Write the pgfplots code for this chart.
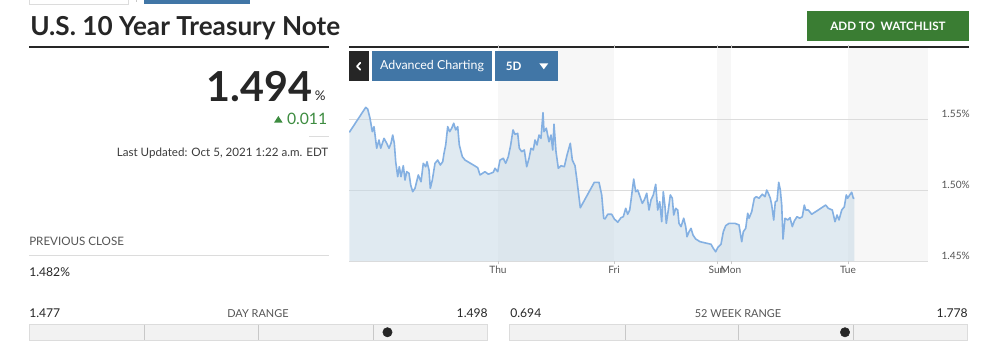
\documentclass[border=0pt]{standalone}
\usepackage{pgfplots}
\pgfplotsset{compat=1.18}
\usepackage{pgfplotstable}
\usepackage{fontspec}
\setmainfont{Lato}
\definecolor{darktext}{HTML}{262626}
\definecolor{green1}{HTML}{3A7D33}
\definecolor{green2}{HTML}{3D8C40}
\definecolor{btnblue}{HTML}{4176A6}
\definecolor{labgray}{HTML}{555555}
\definecolor{rulegray}{HTML}{DCDCDC}
\definecolor{bargray}{HTML}{F2F2F2}
\definecolor{divgray}{HTML}{C8C8C8}
\definecolor{shadegray}{HTML}{F7F7F7}
\definecolor{linecol}{RGB}{132,176,226}
\definecolor{fillcol}{RGB}{195,215,229}

\pgfplotstableread{
x y
349.3 1.5406
363.3 1.5556
365.7 1.5582
367.7 1.5570
370.0 1.5505
372.3 1.5411
374.0 1.5446
376.7 1.5294
379.0 1.5352
380.7 1.5294
384.0 1.5364
386.7 1.5329
389.0 1.5294
391.0 1.5329
392.7 1.5387
394.3 1.5329
395.7 1.5199
397.7 1.5094
399.3 1.5164
401.0 1.5094
403.3 1.5171
405.0 1.5070
406.7 1.5129
409.0 1.5118
410.7 1.5035
412.7 1.4988
415.0 1.5012
418.3 1.5106
421.0 1.5058
423.3 1.5188
425.7 1.5164
427.0 1.5199
429.0 1.5141
430.3 1.5012
432.3 1.5070
435.0 1.5188
437.7 1.5211
440.3 1.5176
442.7 1.5199
444.0 1.5258
445.7 1.5317
447.7 1.5446
449.7 1.5411
451.7 1.5435
453.7 1.5470
455.7 1.5423
457.7 1.5446
459.3 1.5317
462.3 1.5235
465.0 1.5211
475.0 1.5169
477.7 1.5157
480.0 1.5106
485.0 1.5129
488.3 1.5111
493.3 1.5125
495.0 1.5153
497.7 1.5129
500.0 1.5211
503.3 1.5223
505.7 1.5188
508.3 1.5235
510.7 1.5317
513.0 1.5423
515.0 1.5392
517.7 1.5399
519.3 1.5294
521.7 1.5270
524.3 1.5282
526.7 1.5164
529.0 1.5223
531.0 1.5294
533.3 1.5282
535.0 1.5352
537.0 1.5317
539.0 1.5387
541.0 1.5364
543.0 1.5544
544.0 1.5411
546.3 1.5435
549.0 1.5340
551.0 1.5387
552.7 1.5282
554.0 1.5463
556.0 1.5270
558.3 1.5153
561.0 1.5171
564.3 1.5164
567.0 1.5246
570.3 1.5329
572.3 1.5211
575.0 1.5171
576.7 1.5082
580.3 1.4875
594.3 1.5054
599.0 1.5054
601.7 1.4965
603.7 1.4801
605.0 1.4796
607.7 1.4829
611.7 1.4829
614.3 1.4796
617.7 1.4773
621.0 1.4805
623.3 1.4812
625.7 1.4871
627.7 1.4829
629.7 1.4859
631.7 1.4965
633.7 1.5077
635.7 1.4988
637.7 1.5000
640.0 1.4953
642.3 1.4906
644.3 1.4930
646.7 1.4977
649.0 1.4859
651.0 1.4930
653.3 1.4965
655.7 1.5040
657.7 1.4859
659.7 1.4918
661.7 1.4777
663.3 1.4988
665.0 1.4882
666.3 1.4765
668.3 1.4859
670.3 1.4965
672.3 1.4942
673.7 1.4824
675.7 1.4871
677.7 1.4859
679.0 1.4765
681.0 1.4742
683.7 1.4801
685.7 1.4742
687.0 1.4671
689.0 1.4706
691.0 1.4730
693.0 1.4683
695.7 1.4655
700.0 1.4636
711.0 1.4618
713.3 1.4589
715.7 1.4565
717.7 1.4594
721.0 1.4618
723.3 1.4706
725.7 1.4749
729.0 1.4765
735.0 1.4765
739.0 1.4754
741.7 1.4636
743.3 1.4706
745.7 1.4730
747.7 1.4836
749.0 1.4801
751.7 1.4847
754.3 1.4942
756.3 1.4953
759.0 1.4942
762.3 1.4970
765.0 1.4953
766.7 1.5000
768.3 1.4977
770.3 1.4942
771.7 1.4894
773.7 1.4789
775.3 1.4918
777.0 1.4923
778.7 1.5054
780.3 1.5000
781.7 1.4894
783.0 1.4655
785.0 1.4801
787.7 1.4789
790.0 1.4805
792.3 1.4742
794.3 1.4782
797.0 1.4812
799.7 1.4801
802.3 1.4812
804.3 1.4894
805.7 1.4859
808.3 1.4859
811.7 1.4829
825.7 1.4894
828.3 1.4871
832.3 1.4859
835.0 1.4777
837.0 1.4824
839.0 1.4789
841.7 1.4859
844.3 1.4882
846.3 1.4965
847.7 1.4942
849.7 1.4965
851.7 1.4984
853.3 1.4942
854.3 1.4942
}\yielddata

\newcommand\fz[1]{\fontsize{#1pt}{#1pt}\selectfont}

\begin{document}
\begin{tikzpicture}[x=0.75pt,y=0.75pt]
\useasboundingbox (0,0) rectangle (984,-354);
\fill[white] (0,0) rectangle (984,-354);

% cut-off elements at the top
\draw[rulegray, line width=0.75pt] (29.5,0) -- (29.5,-4.8) -- (128,-4.8) -- (128,0);
\draw[divgray, line width=0.75pt] (136,0) -- (136,-1.5);
\fill[btnblue] (144,0) rectangle (250,-4);

% title block
\node[anchor=base west, inner sep=0, text=darktext, font=\bfseries\fz{19.6}] at (30,-35) {U.S. 10 Year Treasury Note};
\fill[darktext] (29,-46) rectangle (329,-48.3);

\node[anchor=base east, inner sep=0, text=darktext, font=\bfseries\fz{31}] at (312.5,-101.7) {1.494};
\node[anchor=base west, inner sep=0, text=darktext, font=\fz{10}] at (314.5,-100) {\%};
\fill[green2] (274,-122.7) -- (282.7,-122.7) -- (278.35,-116) -- cycle;
\node[anchor=base east, inner sep=0, text=green2, font=\fz{11.8}] at (327.5,-124) {0.011};
\draw[rulegray, line width=0.75pt] (309,-136) -- (329,-136);
\node[anchor=base east, inner sep=0, text=darktext!90, font=\fz{8.7}] at (328.5,-156.3) {Last Updated: Oct 5, 2021 1:22 a.m. EDT};

\node[anchor=base west, inner sep=0, text=labgray, font=\fz{8.7}] at (29,-245) {PREVIOUS CLOSE};
\draw[rulegray, line width=0.75pt] (29,-255) -- (329,-255);
\node[anchor=base west, inner sep=0, text=darktext, font=\fz{9.1}] at (29,-276.7) {1.482\%};

% day range
\node[anchor=base west, inner sep=0, text=darktext, font=\fz{9.1}] at (29,-317) {1.477};
\node[anchor=base, inner sep=0, text=labgray, font=\fz{8.2}] at (258,-317) {DAY RANGE};
\node[anchor=base east, inner sep=0, text=darktext, font=\fz{9.1}] at (488,-317) {1.498};
\filldraw[fill=bargray, draw=rulegray, line width=0.75pt] (29.5,-324) rectangle (487.5,-340.5);
\foreach \d in {144,258,373} \draw[divgray, line width=0.75pt] (\d,-324.5) -- (\d,-340);

% 52 week range
\node[anchor=base west, inner sep=0, text=darktext, font=\fz{9.1}] at (510,-317) {0.694};
\node[anchor=base, inner sep=0, text=labgray, font=\fz{8.2}] at (738,-317) {52 WEEK RANGE};
\node[anchor=base east, inner sep=0, text=darktext, font=\fz{9.1}] at (968,-317) {1.778};
\filldraw[fill=bargray, draw=rulegray, line width=0.75pt] (509.5,-324) rectangle (967.5,-340.5);
\foreach \d in {625,738,853} \draw[divgray, line width=0.75pt] (\d,-324.5) -- (\d,-340);

% watchlist button
\fill[green1] (807,-11) rectangle (969,-41);
\node[inner sep=0, text=white, font=\bfseries\fz{8.7}] at (888,-26) {ADD TO\ \ WATCHLIST};
\fill[darktext] (349,-46) rectangle (969,-48.3);

% shaded periods
\fill[shadegray] (498,-48.3) rectangle (614,-261);
\fill[shadegray] (717,-48.3) rectangle (731,-261);
\fill[shadegray] (848,-48.3) rectangle (928,-261);

\begin{axis}[
  at={(261.75pt,-195.75pt)}, anchor=south west,
  scale only axis, width=434.25pt, height=159.75pt,
  xmin=349, xmax=928, ymin=1.45, ymax=1.60,
  axis line style={draw=none},
  ytick={1.45,1.50,1.55},
  yticklabels={1.45\%,1.50\%,1.55\%},
  ymajorgrids, grid style={color=rulegray, line width=0.75pt},
  ytick style={draw=none},
  yticklabel pos=right,
  yticklabel style={anchor=base west, inner sep=0pt, xshift=7.5pt, yshift=1.5pt, font=\fz{7.6}, text=labgray},
  xtick={498,614,717,731,848},
  xticklabels={Thu,Fri,Sun,Mon,Tue},
  xtick style={draw=divgray, line width=0.75pt},
  tick align=outside, major tick length=2.5pt,
  xticklabel style={anchor=north, inner sep=0pt, yshift=-1pt, font=\fz{7.6}, text=labgray},
  clip=true,
]
\addplot[draw=none, fill=fillcol, fill opacity=0.5] table[x=x,y=y]{\yielddata} \closedcycle;
\addplot[linecol, line width=1.2pt, line join=round] table[x=x,y=y]{\yielddata};
\end{axis}

% chart buttons
\fill[darktext] (349,-51) rectangle (369,-81);
\draw[white, line width=1.3pt, line cap=round, line join=round] (360.3,-62.8) -- (357,-66.3) -- (360.3,-69.8);
\fill[btnblue] (372,-51) rectangle (492,-81);
\node[inner sep=0, text=white, font=\fz{9.3}] at (432,-66) {Advanced Charting};
\fill[btnblue] (495,-51) rectangle (558,-81);
\node[anchor=west, inner sep=0, text=white, font=\bfseries\fz{8.7}] at (505.5,-66) {5D};
\fill[white] (539.3,-63.3) -- (548.3,-63.3) -- (543.8,-69.3) -- cycle;

% range dots
\begin{axis}[at={(21.75pt,-255.375pt)}, anchor=south west, scale only axis,
  width=344.25pt, height=12.375pt, xmin=1.477, xmax=1.498, ymin=0, ymax=1, hide axis, clip=false]
\addplot[only marks, mark=*, mark size=3.5pt, color=darktext] coordinates {(1.4934,0.5)};
\end{axis}
\begin{axis}[at={(381.75pt,-255.375pt)}, anchor=south west, scale only axis,
  width=344.25pt, height=12.375pt, xmin=0.694, xmax=1.778, ymin=0, ymax=1, hide axis, clip=false]
\addplot[only marks, mark=*, mark size=3.5pt, color=darktext] coordinates {(1.4875,0.5)};
\end{axis}
\end{tikzpicture}
\end{document}
